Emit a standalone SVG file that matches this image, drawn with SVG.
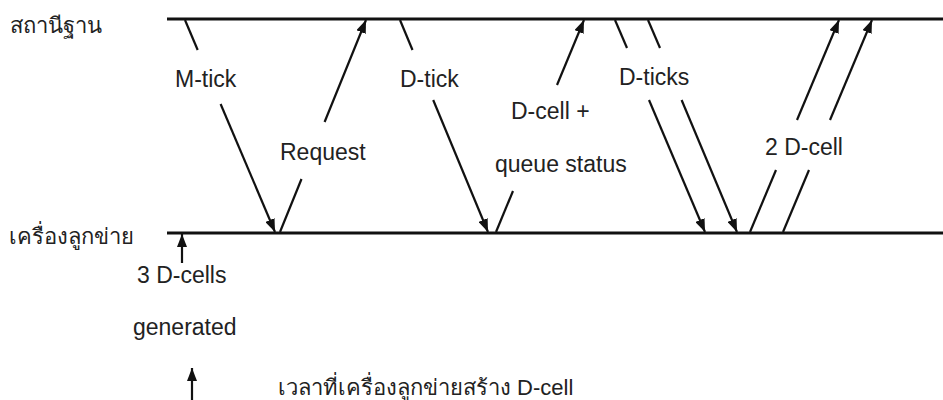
<svg xmlns="http://www.w3.org/2000/svg" width="943" height="400" viewBox="0 0 943 400">
<style>
.t{font-family:"Liberation Sans",Arial,sans-serif;font-size:23px;fill:#222}
.th{font-family:"Liberation Sans","Noto Sans","DejaVu Sans",sans-serif;font-size:22px;fill:#222}
.ln{stroke:#111;stroke-width:3;fill:none}
.ar{stroke:#111;stroke-width:2.2;fill:none}
.ah{stroke:#111;stroke-width:2.2;fill:none;marker-end:url(#head)}
</style>
<defs>
<marker id="head" markerUnits="userSpaceOnUse" markerWidth="14" markerHeight="10" refX="13" refY="5" orient="auto">
<path d="M0,0 L13,5 L0,10 z" fill="#111"/>
</marker>
</defs>
<rect width="943" height="400" fill="#fff"/>
<g id="station">
<line class="ln" x1="167" y1="19" x2="943" y2="19"/>
<text class="th" x="10" y="33">สถานีฐาน</text>
</g>
<g id="client">
<line class="ln" x1="167" y1="233" x2="943" y2="233"/>
<text class="th" x="9" y="244">เครื่องลูกข่าย</text>
</g>
<g id="connectors">
<line class="ar" x1="185" y1="20" x2="197.7" y2="50"/>
<line class="ah" x1="220.6" y1="104" x2="275" y2="232"/>
<line class="ar" x1="280" y1="232" x2="301.5" y2="179"/>
<line class="ah" x1="324.6" y1="122" x2="366" y2="20"/>
<line class="ar" x1="400" y1="20" x2="412.5" y2="50"/>
<line class="ah" x1="433.2" y1="100" x2="488" y2="232"/>
<line class="ar" x1="496" y1="232" x2="513" y2="191"/>
<line class="ah" x1="557" y1="85" x2="584" y2="20"/>
<line class="ar" x1="615" y1="20" x2="627" y2="48"/>
<line class="ah" x1="649" y1="100" x2="705" y2="232"/>
<line class="ar" x1="648" y1="20" x2="660" y2="48"/>
<line class="ah" x1="681.6" y1="100" x2="737" y2="232"/>
<line class="ar" x1="750" y1="232" x2="776" y2="170"/>
<line class="ah" x1="797" y1="120" x2="839" y2="20"/>
<line class="ar" x1="783" y1="232" x2="809" y2="170"/>
<line class="ah" x1="830" y1="120" x2="872" y2="20"/>
<line class="ah" x1="182" y1="263" x2="182" y2="234"/>
<line class="ah" x1="192" y1="400" x2="192" y2="368"/>
</g>
<g id="labels">
<text class="t" x="175" y="86.5">M-tick</text>
<text class="t" x="280" y="160">Request</text>
<text class="t" x="400" y="86.5">D-tick</text>
<text class="t" x="511" y="118.5">D-cell +</text>
<text class="t" x="495" y="172">queue status</text>
<text class="t" x="619" y="84.5">D-ticks</text>
<text class="t" x="765" y="154.5">2 D-cell</text>
<text class="t" x="137" y="283">3 D-cells</text>
<text class="t" x="133" y="334.5">generated</text>
<text class="th" x="278" y="395">เวลาที่เครื่องลูกข่ายสร้าง D-cell</text>
</g>
</svg>
